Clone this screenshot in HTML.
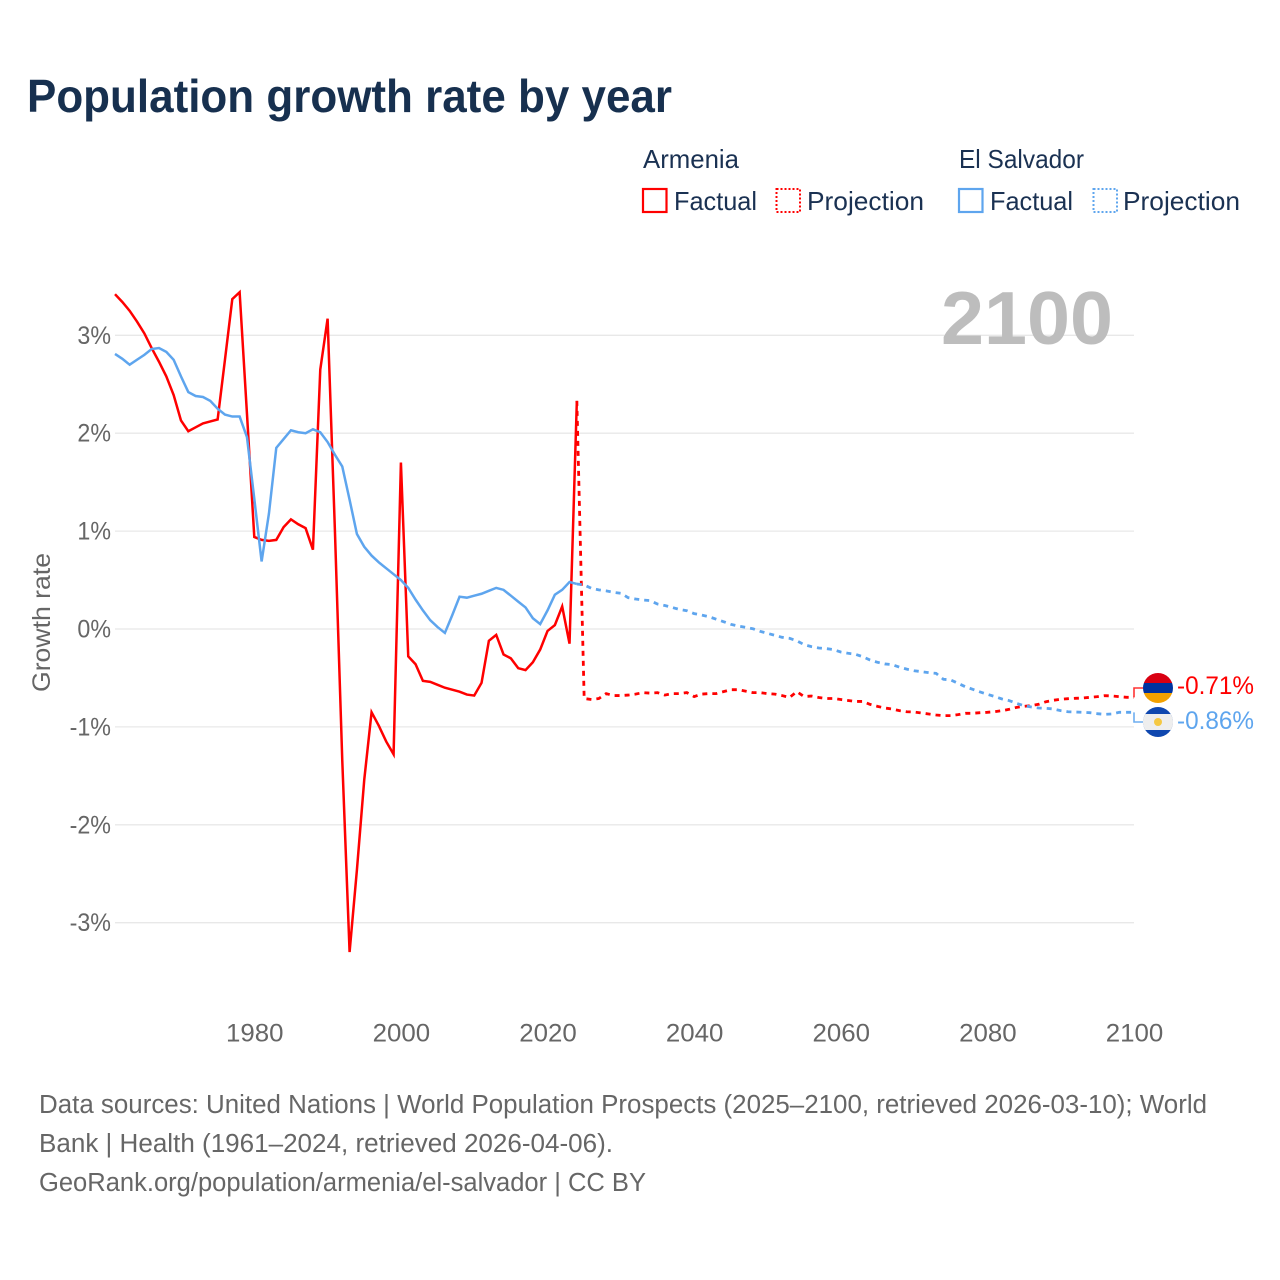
<!DOCTYPE html>
<html lang="en">
<head>
<meta charset="utf-8">
<title>Population growth rate by year</title>
<style>
html,body{margin:0;padding:0;background:#fff;}
svg{display:block;font-family:"Liberation Sans",sans-serif;}
.tick{fill:#666;font-size:25px;}
.foot{fill:#666;font-size:25.5px;}
.leg{fill:#1a3152;font-size:26px;}
</style>
</head>
<body>
<svg id="chart" xmlns="http://www.w3.org/2000/svg" width="1280" height="1280" viewBox="0 0 1280 1280">
  <rect width="1280" height="1280" fill="#fff"/>
  <text x="27" y="112" font-size="46" font-weight="700" fill="#17304f" textLength="645" lengthAdjust="spacingAndGlyphs">Population growth rate by year</text>

  <g>
    <text class="leg" x="643" y="168" textLength="96" lengthAdjust="spacingAndGlyphs">Armenia</text>
    <text class="leg" x="959" y="168" textLength="125" lengthAdjust="spacingAndGlyphs">El Salvador</text>
    <rect x="643" y="189" width="23.500" height="23" fill="none" stroke="#ff0000" stroke-width="2.200"/>
    <text class="leg" x="674" y="210" textLength="83" lengthAdjust="spacingAndGlyphs">Factual</text>
    <rect x="776.500" y="189" width="23.500" height="23" fill="none" stroke="#ff0000" stroke-width="2" stroke-dasharray="2 2"/>
    <text class="leg" x="807" y="210" textLength="117" lengthAdjust="spacingAndGlyphs">Projection</text>
    <rect x="959" y="189" width="23.500" height="23" fill="none" stroke="#5ea5ee" stroke-width="2.200"/>
    <text class="leg" x="990" y="210" textLength="83" lengthAdjust="spacingAndGlyphs">Factual</text>
    <rect x="1093.500" y="189" width="23.500" height="23" fill="none" stroke="#5ea5ee" stroke-width="2" stroke-dasharray="2 2"/>
    <text class="leg" x="1123" y="210" textLength="117" lengthAdjust="spacingAndGlyphs">Projection</text>
  </g>

  <g id="grid"></g>
  <g id="yticks"></g>
  <g id="xticks"></g>
  <text transform="translate(50,622.500) rotate(-90)" text-anchor="middle" font-size="25" fill="#666" textLength="139" lengthAdjust="spacingAndGlyphs">Growth rate</text>
  <text id="yearLabel" x="941" y="344" font-size="75" font-weight="700" fill="#bdbdbd" textLength="172" lengthAdjust="spacingAndGlyphs"></text>
  <g id="series"></g>

  <defs>
    <clipPath id="clipAm"><circle cx="1158" cy="688" r="15"/></clipPath>
    <clipPath id="clipSv"><circle cx="1158" cy="722" r="15"/></clipPath>
  </defs>
  <g clip-path="url(#clipAm)">
    <rect x="1143" y="673" width="30" height="10" fill="#d90012"/>
    <rect x="1143" y="683" width="30" height="10" fill="#0033a0"/>
    <rect x="1143" y="693" width="30" height="10" fill="#f2a100"/>
  </g>
  <g clip-path="url(#clipSv)">
    <rect x="1143" y="707" width="30" height="30" fill="#0f47af"/>
    <rect x="1143" y="717" width="30" height="10" fill="#eeeeee"/>
    <rect x="1143" y="714" width="30" height="16" fill="#eeeeee"/>
    <circle cx="1158" cy="722" r="4" fill="#f5c842"/>
  </g>
  <text id="endAm" x="1177" y="694" font-size="25" fill="#ff0000" textLength="77" lengthAdjust="spacingAndGlyphs"></text>
  <text id="endSv" x="1177" y="729" font-size="25" fill="#5ea5ee" textLength="77" lengthAdjust="spacingAndGlyphs"></text>

  <text class="foot" x="39" y="1113" textLength="1168" lengthAdjust="spacingAndGlyphs">Data sources: United Nations | World Population Prospects (2025–2100, retrieved 2026-03-10); World</text>
  <text class="foot" x="39" y="1152" textLength="574" lengthAdjust="spacingAndGlyphs">Bank | Health (1961–2024, retrieved 2026-04-06).</text>
  <text class="foot" x="39" y="1191" textLength="607" lengthAdjust="spacingAndGlyphs">GeoRank.org/population/armenia/el-salvador | CC BY</text>
</svg>
<script>
const factualStartYear = 1961;
const projectionStartYear = 2024;
const currentYear = 2100;
const yTickValues = [3, 2, 1, 0, -1, -2, -3];
const yTickLabels = ["3%", "2%", "1%", "0%", "-1%", "-2%", "-3%"];
const xTickValues = [1980, 2000, 2020, 2040, 2060, 2080, 2100];
const armeniaEndLabel = "-0.71%";
const elSalvadorEndLabel = "-0.86%";

const armeniaFactual = [3.42,3.34,3.25,3.14,3.02,2.87,2.73,2.58,2.39,2.13,2.02,2.06,2.10,2.12,2.14,2.75,3.37,3.44,2.20,0.94,0.91,0.90,0.91,1.04,1.12,1.07,1.03,0.81,2.65,3.17,1.00,-1.34,-3.30,-2.46,-1.54,-0.85,-0.99,-1.15,-1.28,1.70,-0.28,-0.36,-0.53,-0.54,-0.57,-0.60,-0.62,-0.64,-0.67,-0.68,-0.55,-0.12,-0.06,-0.26,-0.30,-0.40,-0.42,-0.34,-0.21,-0.02,0.04,0.23,-0.15,2.33];
const armeniaProjection = [2.33,-0.71,-0.72,-0.71,-0.66,-0.68,-0.68,-0.675,-0.665,-0.65,-0.655,-0.65,-0.675,-0.66,-0.66,-0.65,-0.69,-0.665,-0.66,-0.66,-0.64,-0.62,-0.62,-0.635,-0.65,-0.65,-0.66,-0.665,-0.68,-0.70,-0.64,-0.69,-0.685,-0.70,-0.71,-0.71,-0.72,-0.73,-0.74,-0.74,-0.77,-0.79,-0.807,-0.817,-0.834,-0.845,-0.848,-0.858,-0.868,-0.878,-0.885,-0.885,-0.875,-0.861,-0.861,-0.855,-0.851,-0.845,-0.834,-0.82,-0.80,-0.79,-0.783,-0.769,-0.743,-0.728,-0.718,-0.712,-0.708,-0.705,-0.698,-0.691,-0.681,-0.684,-0.691,-0.698,-0.698];
const elSalvadorFactual = [2.81,2.76,2.70,2.75,2.80,2.86,2.87,2.83,2.75,2.58,2.42,2.38,2.37,2.33,2.25,2.19,2.17,2.17,1.96,1.33,0.69,1.18,1.85,1.94,2.03,2.01,2.00,2.04,2.01,1.91,1.78,1.66,1.32,0.97,0.84,0.75,0.68,0.62,0.56,0.50,0.42,0.30,0.19,0.09,0.02,-0.04,0.14,0.33,0.32,0.34,0.36,0.39,0.42,0.40,0.34,0.28,0.22,0.11,0.05,0.19,0.35,0.40,0.48,0.46];
const elSalvadorProjection = [0.46,0.45,0.415,0.40,0.39,0.375,0.365,0.32,0.306,0.296,0.29,0.255,0.24,0.22,0.20,0.187,0.157,0.143,0.126,0.10,0.075,0.048,0.03,0.017,0.003,-0.024,-0.044,-0.065,-0.085,-0.095,-0.12,-0.16,-0.18,-0.194,-0.20,-0.21,-0.235,-0.248,-0.258,-0.283,-0.317,-0.34,-0.357,-0.364,-0.39,-0.41,-0.426,-0.436,-0.446,-0.453,-0.514,-0.52,-0.555,-0.59,-0.616,-0.643,-0.667,-0.69,-0.715,-0.732,-0.76,-0.783,-0.797,-0.807,-0.81,-0.817,-0.834,-0.845,-0.848,-0.851,-0.855,-0.865,-0.872,-0.868,-0.851,-0.851,-0.851];

const NS = "http://www.w3.org/2000/svg";
function xScale(year) { return 115 + (year - 1961) * (1134 - 115) / 139; }
function yScale(value) { return 629 - value * 97.9; }
function linePath(values, startYear) {
  return values.map(function (v, i) {
    return (i ? "L" : "M") + xScale(startYear + i).toFixed(2) + " " + yScale(v).toFixed(2);
  }).join("");
}

const gridGroup = document.getElementById("grid");
const yGroup = document.getElementById("yticks");
yTickValues.forEach(function (v, i) {
  const ln = document.createElementNS(NS, "line");
  
  
  ln.setAttribute("x1", xScale(1961));
  ln.setAttribute("x2", xScale(2100));
  ln.setAttribute("y1", yScale(v));
  ln.setAttribute("y2", yScale(v));
  ln.setAttribute("stroke", "#e8e8e8");
  ln.setAttribute("stroke-width", "1.3");
  gridGroup.appendChild(ln);
  const t = document.createElementNS(NS, "text");
  
  
  t.setAttribute("class", "tick");
  t.setAttribute("x", 111);
  t.setAttribute("y", yScale(v) + 8.5);
  t.setAttribute("text-anchor", "end");
  t.textContent = yTickLabels[i];
  yGroup.appendChild(t);
  t.setAttribute("textLength", (t.getComputedTextLength() * 0.93).toFixed(1));
  t.setAttribute("lengthAdjust", "spacingAndGlyphs");
});

const xGroup = document.getElementById("xticks");
xTickValues.forEach(function (year) {
  const t = document.createElementNS(NS, "text");
  
  
  t.setAttribute("class", "tick");
  t.setAttribute("x", xScale(year) + 0.5);
  t.setAttribute("y", 1041.5);
  t.setAttribute("text-anchor", "middle");
  t.setAttribute("textLength", "57.5");
  t.setAttribute("lengthAdjust", "spacingAndGlyphs");
  t.textContent = String(year);
  xGroup.appendChild(t);
});

const seriesGroup = document.getElementById("series");

const armeniaFactualLine = document.createElementNS(NS, "path");


armeniaFactualLine.setAttribute("d", linePath(armeniaFactual, factualStartYear));
armeniaFactualLine.setAttribute("fill", "none");
armeniaFactualLine.setAttribute("stroke", "#ff0000");
armeniaFactualLine.setAttribute("stroke-width", "2.5");
seriesGroup.appendChild(armeniaFactualLine);

const armeniaProjectionLine = document.createElementNS(NS, "path");


armeniaProjectionLine.setAttribute("d", linePath(armeniaProjection, projectionStartYear));
armeniaProjectionLine.setAttribute("fill", "none");
armeniaProjectionLine.setAttribute("stroke", "#ff0000");
armeniaProjectionLine.setAttribute("stroke-width", "2.8");
armeniaProjectionLine.setAttribute("stroke-dasharray", "5 5");
seriesGroup.appendChild(armeniaProjectionLine);

const salvadorFactualLine = document.createElementNS(NS, "path");


salvadorFactualLine.setAttribute("d", linePath(elSalvadorFactual, factualStartYear));
salvadorFactualLine.setAttribute("fill", "none");
salvadorFactualLine.setAttribute("stroke", "#5ea5ee");
salvadorFactualLine.setAttribute("stroke-width", "2.5");
seriesGroup.appendChild(salvadorFactualLine);

const salvadorProjectionLine = document.createElementNS(NS, "path");


salvadorProjectionLine.setAttribute("d", linePath(elSalvadorProjection, projectionStartYear));
salvadorProjectionLine.setAttribute("fill", "none");
salvadorProjectionLine.setAttribute("stroke", "#5ea5ee");
salvadorProjectionLine.setAttribute("stroke-width", "2.8");
salvadorProjectionLine.setAttribute("stroke-dasharray", "5 5");
seriesGroup.appendChild(salvadorProjectionLine);

const armeniaEndY = yScale(armeniaProjection[armeniaProjection.length - 1]);
const armeniaConnector = document.createElementNS(NS, "path");


armeniaConnector.setAttribute("d", "M" + xScale(2100) + " " + armeniaEndY + "V688H1143");
armeniaConnector.setAttribute("fill", "none");
armeniaConnector.setAttribute("stroke", "#ff0000");
armeniaConnector.setAttribute("stroke-opacity", "0.8");
armeniaConnector.setAttribute("stroke-width", "1.6");
seriesGroup.appendChild(armeniaConnector);

const salvadorEndY = yScale(elSalvadorProjection[elSalvadorProjection.length - 1]);
const salvadorConnector = document.createElementNS(NS, "path");


salvadorConnector.setAttribute("d", "M" + xScale(2100) + " " + salvadorEndY + "V722H1143");
salvadorConnector.setAttribute("fill", "none");
salvadorConnector.setAttribute("stroke", "#5ea5ee");
salvadorConnector.setAttribute("stroke-opacity", "0.9");
salvadorConnector.setAttribute("stroke-width", "1.6");
seriesGroup.appendChild(salvadorConnector);

document.getElementById("yearLabel").textContent = String(currentYear);
document.getElementById("endAm").textContent = armeniaEndLabel;
document.getElementById("endSv").textContent = elSalvadorEndLabel;
</script>
</body>
</html>
